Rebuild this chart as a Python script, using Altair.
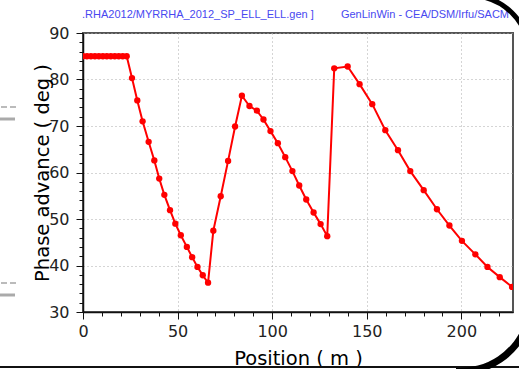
import altair as alt
import pandas as pd

positions = [0, 2.1, 4.2, 6.3, 8.4, 10.5, 12.6, 14.7, 16.8, 18.9, 21.0, 23.1,
             25.9, 28.7, 31.5, 34.7, 37.7, 40.3, 43.0, 46.0, 48.8, 51.7, 54.9, 57.7, 60.5, 63.3, 66.1,
             68.9, 72.8, 76.7, 80.4, 84.0,
             88.0, 91.9, 95.4, 99.1, 103.0, 106.9, 110.7, 114.3, 118.0, 121.9, 125.6, 129.1,
             132.8, 139.9, 146.2, 152.9, 159.8, 166.5, 173.0, 180.1, 187.1, 193.7, 200.3,
             207.4, 213.8, 220.3, 226.8]
phase = [85, 85, 85, 85, 85, 85, 85, 85, 85, 85, 85, 85,
         80.3, 75.5, 71.0, 66.6, 62.6, 58.7, 55.2, 51.9, 49.0, 46.5, 44.0, 41.8, 39.7, 37.9, 36.3,
         47.5, 54.9, 62.5, 69.9, 76.5,
         74.3, 73.3, 71.4, 68.9, 66.3, 63.3, 60.3, 57.2, 54.2, 51.4, 48.9, 46.3,
         82.4, 82.8, 79.0, 74.7, 69.1, 64.8, 60.3, 56.2, 52.1, 48.6, 45.3,
         42.4, 39.7, 37.5, 35.4]

x_ticks = list(range(0, 230, 10))
y_ticks = list(range(30, 92, 2))
header_left = ".RHA2012/MYRRHA_2012_SP_ELL_ELL.gen ]"
header_right = "GenLinWin - CEA/DSM/Irfu/SACM"

df = pd.DataFrame({"pos": positions, "phase": phase})

FONT = "DejaVu Sans"
W, H = 430, 279

x_axis = alt.Axis(
    values=x_ticks,
    title="Position ( m )",
    titleFont=FONT, titleFontSize=19.5, titleFontWeight="normal", titleColor="#000",
    titleY=52, titleBaseline="alphabetic",
    labelExpr="datum.value % 50 === 0 ? datum.label : ''",
    labelFont=FONT, labelFontSize=16, labelColor="#222", labelPadding=4,
    labelOverlap=False, labelFlush=False,
    tickSize={"condition": {"test": "datum.value % 50 === 0", "value": 7}, "value": 4},
    tickColor="#111", tickWidth=1,
    domainColor="#111", domainWidth=1.5,
    grid=True,
    gridOpacity={"condition": {"test": "datum.value % 50 === 0", "value": 1}, "value": 0},
    gridColor="#aaa", gridDash=[1, 3], gridWidth=1,
)
y_axis = alt.Axis(
    values=y_ticks,
    title="Phase advance ( deg )",
    titleFont=FONT, titleFontSize=19.5, titleFontWeight="normal", titleColor="#000",
    titleX=-35, titleBaseline="alphabetic", titleAngle=-90,
    labelExpr="datum.value % 10 === 0 ? datum.label : ''",
    labelFont=FONT, labelFontSize=16, labelColor="#222", labelPadding=7,
    labelOverlap=False, labelFlush=False,
    tickSize={"condition": {"test": "datum.value % 10 === 0", "value": 7}, "value": 4},
    tickColor="#111", tickWidth=1,
    domainColor="#111", domainWidth=1.5,
    grid=True,
    gridOpacity={"condition": {"test": "datum.value % 10 === 0", "value": 1}, "value": 0},
    gridColor="#aaa", gridDash=[1, 3], gridWidth=1,
)

line = alt.Chart(df).mark_line(
    color="#ff0000", strokeWidth=2, clip=True,
    point=alt.OverlayMarkDef(filled=True, size=40, color="#ff0000", opacity=1),
).encode(
    x=alt.X("pos:Q", scale=alt.Scale(domain=[0, 227.3], nice=False, zero=False), axis=x_axis),
    y=alt.Y("phase:Q", scale=alt.Scale(domain=[30, 90], nice=False, zero=False), axis=y_axis),
)

hdr = pd.DataFrame({"t": [header_left]})
hdr2 = pd.DataFrame({"t": [header_right]})
head_l = alt.Chart(hdr).mark_text(
    font="Liberation Sans", fontSize=11, color="#4848f0", align="left", baseline="alphabetic"
).encode(x=alt.value(-1), y=alt.value(-15), text="t:N")
head_r = alt.Chart(hdr2).mark_text(
    font="Liberation Sans", fontSize=11, color="#4848f0", align="right", baseline="alphabetic"
).encode(x=alt.value(426), y=alt.value(-15), text="t:N")

deco = pd.DataFrame({"k": [0]})
dash1 = alt.Chart(deco).mark_rule(color="#bbb", strokeWidth=2, strokeDash=[6, 3]).encode(
    x=alt.value(-82), x2=alt.value(-65), y=alt.value(74))
bar1 = alt.Chart(deco).mark_rule(color="#aaa", strokeWidth=3).encode(
    x=alt.value(-83), x2=alt.value(-68), y=alt.value(86))
dash2 = alt.Chart(deco).mark_rule(color="#bbb", strokeWidth=2, strokeDash=[6, 3]).encode(
    x=alt.value(-82), x2=alt.value(-65), y=alt.value(250))
bar2 = alt.Chart(deco).mark_rule(color="#aaa", strokeWidth=3).encode(
    x=alt.value(-83), x2=alt.value(-68), y=alt.value(262))
bottom = alt.Chart(deco).mark_rule(color="#111", strokeWidth=2).encode(
    x=alt.value(-83), x2=alt.value(436), y=alt.value(334))
arc_top = alt.Chart(deco).mark_arc(
    color="#000", radius=57, radius2=62, theta=0.25, theta2=1.3
).encode(x=alt.value(387), y=alt.value(22))
arc_bot = alt.Chart(deco).mark_arc(
    color="#000", radius=68, radius2=75, theta=1.9, theta2=3.2
).encode(x=alt.value(377), y=alt.value(267))

chart = alt.layer(line, head_l, head_r, dash1, bar1, dash2, bar2, bottom, arc_top, arc_bot).properties(
    width=W, height=H,
    autosize=alt.AutoSizeParams(type="none"),
    padding={"left": 83, "top": 33, "right": 6, "bottom": 57},
    background="white",
).configure_view(stroke="#555", strokeWidth=2)

chart.save("out.html", embed_options={"renderer": "svg", "actions": False})
